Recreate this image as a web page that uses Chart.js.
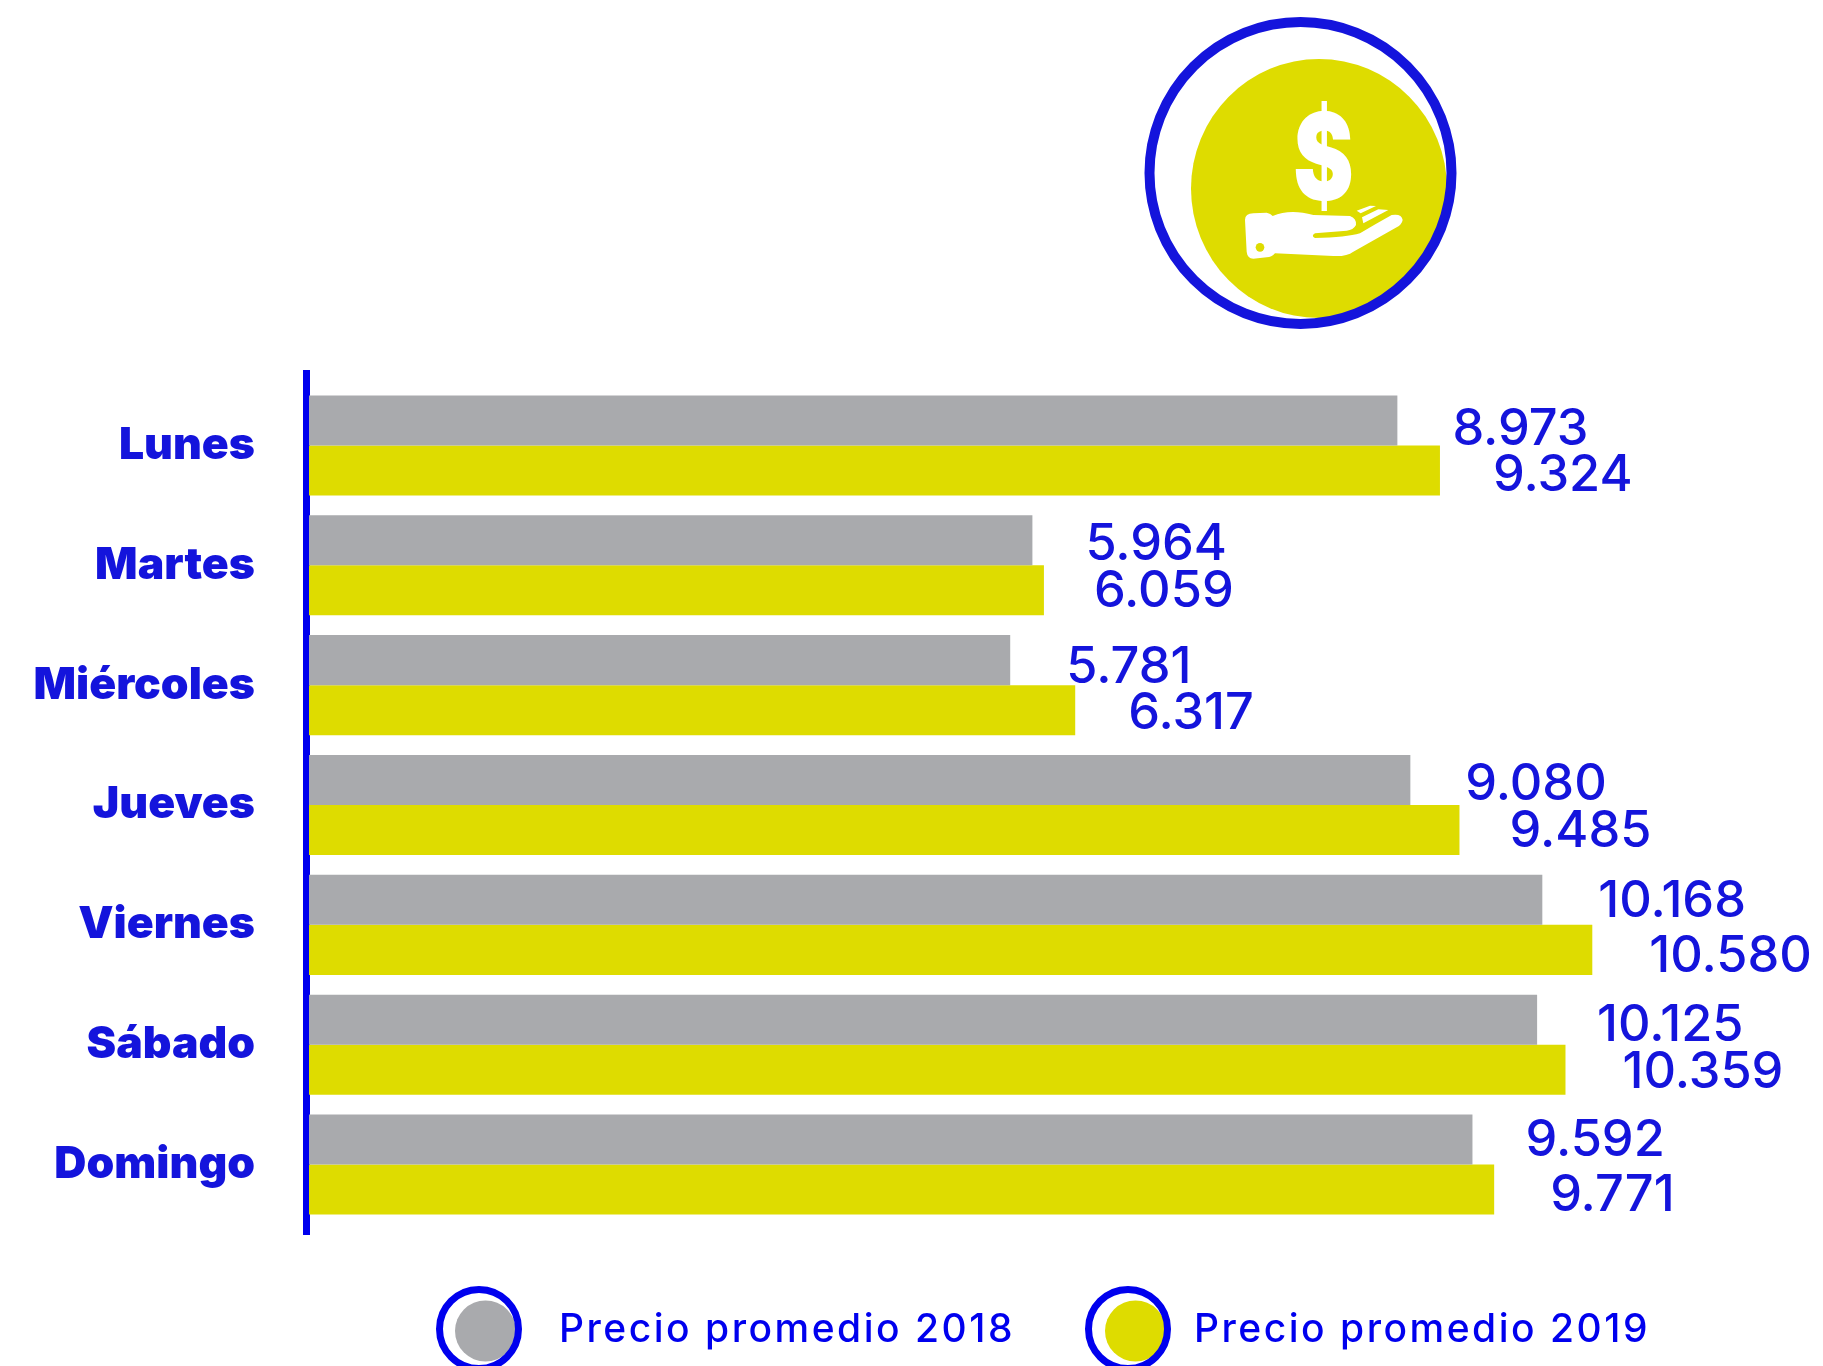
<!DOCTYPE html>
<html><head><meta charset="utf-8">
<style>html,body{margin:0;padding:0;background:#fff;overflow:hidden}canvas{display:block}</style>
<script src="https://cdn.jsdelivr.net/npm/chart.js@4"></script>
</head><body><canvas id="c" width="1823" height="1366"></canvas>
<script>
const categories = ['Lunes','Martes','Miércoles','Jueves','Viernes','Sábado','Domingo'];
const precio2018 = [8973,5964,5781,9080,10168,10125,9592];
const precio2019 = [9324,6059,6317,9485,10580,10359,9771];
const seriesNames = ['Precio promedio 2018','Precio promedio 2019'];
const gapX = [[55,53,56,55,56,60,53],[53,50,53,50,57,57,56]];
const nudgeY = [[9,5,8,5,2,6,1],[5,2,4,2,7,3,6]];
const BLUE='#1414DC', AXIS='#0000EE', GRAY='#A9AAAD', YEL='#DEDC00';
const fmt = v => String(v).replace(/\B(?=(\d{3})+$)/g,'.');
const LABEL_FONT = '500 50.5px Inter, "Open Sans", sans-serif';
const LEGEND_FONT = '500 39px Inter, "Open Sans", sans-serif';

const hand = new Path2D('M375 660Q375 640 400 640L440 638Q452 640 458 648Q510 625 580 645L690 648Q710 655 708 675Q700 690 680 692L585 700Q572 708 585 714Q680 712 720 700Q770 670 815 645Q845 640 848 660Q845 675 830 682L700 755Q680 770 640 768L465 760Q455 772 440 772L400 776Q382 775 380 755Z');
const streak1 = new Path2D('M710 632L750 617L768 618L722 640Z');
const streak2 = new Path2D('M726 652L775 628L805 630L730 670Z');

const decor = {
  id:'decor',
  beforeDatasetsDraw(ch){
    const {ctx,scales:{x,y}}=ch;
    ctx.save();
    ctx.fillStyle=AXIS;
    const x0=x.getPixelForValue(0);
    ctx.fillRect(x0-6,y.top-15.5,7,y.bottom-y.top+26);
    ctx.restore();
  },
  afterDatasetsDraw(ch){
    const {ctx}=ch;
    ctx.save();
    // value labels
    ctx.font=LABEL_FONT; ctx.fillStyle=BLUE; ctx.textAlign='left'; ctx.textBaseline='middle';
    ch.data.datasets.forEach((ds,di)=>{
      ch.getDatasetMeta(di).data.forEach((bar,i)=>{
        ctx.fillText(fmt(ds.data[i]),bar.x+gapX[di][i],bar.y+nudgeY[di][i]);
      });
    });
    // icon
    ctx.save();
    ctx.beginPath();ctx.arc(1300.5,173,151,0,Math.PI*2);ctx.clip();
    ctx.fillStyle=YEL;ctx.beginPath();ctx.ellipse(1319,188.5,128,129.5,0,0,Math.PI*2);ctx.fill();
    ctx.restore();
    ctx.strokeStyle=BLUE;ctx.lineWidth=10;ctx.beginPath();ctx.arc(1300.5,173,151,0,Math.PI*2);ctx.stroke();
    ctx.fillStyle='#fff';ctx.textAlign='center';ctx.textBaseline='alphabetic';
    ctx.save();
    ctx.translate(1323.5,199.5);ctx.scale(.75,1);
    ctx.font='900 121px Inter, "Liberation Sans", sans-serif';
    ctx.fillText('$',0,0);
    ctx.restore();
    ctx.save();
    ctx.translate(1120,0);ctx.scale(1/3,1/3);
    ctx.fill(hand);ctx.fill(streak1);ctx.fill(streak2);
    ctx.fillStyle=YEL;ctx.beginPath();ctx.arc(420,742,13,0,Math.PI*2);ctx.fill();
    ctx.restore();
    // legend
    const lg=[[479,485.5,559],[1128,1135.5,1194]];
    ctx.font=LEGEND_FONT;ctx.textAlign='left';ctx.letterSpacing='2.5px';
    ch.data.datasets.forEach((ds,i)=>{
      const [cx,ix,tx]=lg[i];
      ctx.fillStyle=ds.backgroundColor;ctx.beginPath();ctx.arc(ix,1331,30.5,0,Math.PI*2);ctx.fill();
      ctx.strokeStyle=AXIS;ctx.lineWidth=7;ctx.beginPath();ctx.arc(cx,1329,39.5,0,Math.PI*2);ctx.stroke();
      ctx.fillStyle=AXIS;ctx.fillText(ds.label,tx,1342);
    });
    ctx.restore();
  }
};

new Chart(document.getElementById('c'),{
  type:'bar',
  data:{labels:categories,datasets:[
    {label:seriesNames[0],data:precio2018,backgroundColor:GRAY,borderWidth:0,barPercentage:1,categoryPercentage:.835},
    {label:seriesNames[1],data:precio2019,backgroundColor:YEL,borderWidth:0,barPercentage:1,categoryPercentage:.835}
  ]},
  options:{
    indexAxis:'y',responsive:false,animation:false,devicePixelRatio:1,
    layout:{padding:{top:385.5,bottom:141.5,left:0,right:0}},
    plugins:{legend:{display:false},tooltip:{enabled:false},title:{display:false}},
    scales:{
      x:{display:false,min:0,max:12482,grid:{display:false}},
      y:{grid:{display:false,drawBorder:false},border:{display:false},
         afterFit(s){s.width=309;},
         ticks:{color:BLUE,padding:46,autoSkip:false,font:{family:'Inter, "Open Sans", sans-serif',size:44.5,weight:'900'}}}
    }
  },
  plugins:[decor]
});
</script></body></html>
